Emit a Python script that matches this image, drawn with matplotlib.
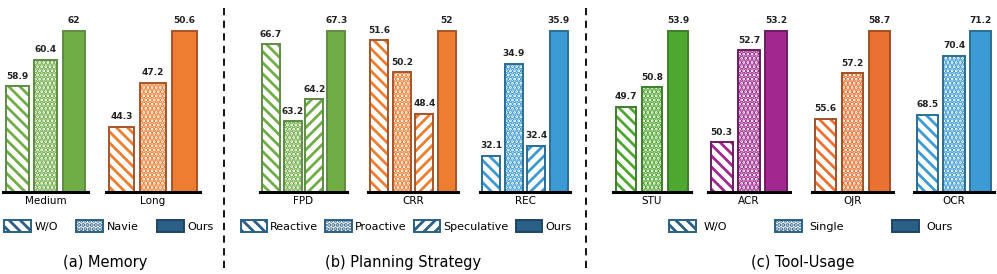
import matplotlib
matplotlib.use("Agg")
import matplotlib.pyplot as plt
from matplotlib.patches import Patch
from matplotlib.lines import Line2D

plt.rcParams['font.family'] = ['DejaVu Sans']
plt.rcParams['hatch.linewidth'] = 2.0

# ---------------- data ----------------
mem_categories = ['Medium', 'Long']
mem_series = ['W/O', 'Navie', 'Ours']
mem_wo = [58.9, 44.3]
mem_navie = [60.4, 47.2]
mem_ours = [62, 50.6]

plan_categories = ['FPD', 'CRR', 'REC']
plan_series = ['Reactive', 'Proactive', 'Speculative', 'Ours']
plan_reactive = [66.7, 51.6, 32.1]
plan_proactive = [63.2, 50.2, 34.9]
plan_speculative = [64.2, 48.4, 32.4]
plan_ours = [67.3, 52, 35.9]

tool_categories = ['STU', 'ACR', 'OJR', 'OCR']
tool_series = ['W/O', 'Single', 'Ours']
tool_wo = [49.7, 50.3, 55.6, 68.5]
tool_single = [50.8, 52.7, 57.2, 70.4]
tool_ours = [53.9, 53.2, 58.7, 71.2]

# per-group y-axis floors (axis setting)
mem_floor = [53, 40]
plan_floor = [60, 45, 31]
tool_floor = [45, 49, 53, 66]

# ---------------- styles ----------------
W, H = 997, 274
fig = plt.figure(figsize=(W / 100, H / 100), dpi=100)

def px_axes(x0, x1, ytop=20, ybot=192):
    return fig.add_axes([x0 / W, (H - ybot) / H, (x1 - x0) / W, (ybot - ytop) / H])

# (fill, edge)
GREEN = ('#70AD47', '#5E8C45')
ORANGE = ('#ED7D31', '#A8542A')
BLUE = ('#3C9AD4', '#2B6E93')
GREEN2 = ('#4EA72E', '#3E7E2C')
PURPLE = ('#A0288E', '#6E1C63')
ORANGE2 = ('#E97132', '#A34F22')
LEG = ('#2A5F86', '#1F4466')
DOT_LW = 2.6

def set_hlw(artists, lw):
    for a in artists:
        if hasattr(a, 'set_hatch_linewidth'):
            a.set_hatch_linewidth(lw)

def draw_bar(ax, x, v, kind, col, width):
    fill, edge = col
    if kind == 'back':
        ax.bar(x, v, width, facecolor='white', edgecolor=fill, hatch='\\\\\\', linewidth=0)
    elif kind == 'fwd':
        ax.bar(x, v, width, facecolor='white', edgecolor=fill, hatch='///', linewidth=0)
    elif kind == 'dots':
        b = ax.bar(x, v, width, facecolor='white', edgecolor=fill, hatch='....', linewidth=0)
        set_hlw(b, DOT_LW)
    else:
        ax.bar(x, v, width, facecolor=fill, edgecolor=fill, linewidth=0)
    ax.bar(x, v, width, fill=False, edgecolor=edge, linewidth=1.4)
    ax.annotate(f'{v:g}', (x, v), xytext=(0, 4), textcoords='offset points',
                ha='center', va='bottom', fontsize=6.5, fontweight='bold',
                color='#222222', annotation_clip=False)

def group(x0, x1, values, kinds, col, label, floor, width):
    ax = px_axes(x0, x1)
    n = len(values)
    for i, (v, k) in enumerate(zip(values, kinds)):
        draw_bar(ax, i, v, k, col, width)
    top = max(values)
    ax.set_ylim(floor, floor + (top - floor) * (192 - 20) / (192 - 31))
    ax.set_xlim(-0.5, n - 0.5)
    for s in ['top', 'left', 'right']:
        ax.spines[s].set_visible(False)
    ax.spines['bottom'].set_linewidth(2.2)
    ax.spines['bottom'].set_color('black')
    ax.set_yticks([])
    ax.set_xticks([])
    ax.set_xlabel(label, fontsize=7.5, labelpad=3)
    return ax

# ---------- panel a ----------
mem_cols = [GREEN, ORANGE]
mem_x = [(3, 88), (106, 200)]
for i, c in enumerate(mem_categories):
    group(*mem_x[i], [mem_wo[i], mem_navie[i], mem_ours[i]],
          ['back', 'dots', 'solid'], mem_cols[i], c, mem_floor[i], 0.8)

# ---------- panel b ----------
plan_cols = [GREEN, ORANGE, BLUE]
plan_x = [(260, 347), (368, 458), (480, 570)]
for i, c in enumerate(plan_categories):
    group(*plan_x[i], [plan_reactive[i], plan_proactive[i], plan_speculative[i], plan_ours[i]],
          ['back', 'dots', 'fwd', 'solid'], plan_cols[i], c, plan_floor[i], 0.82)

# ---------- panel c ----------
tool_cols = [GREEN2, PURPLE, ORANGE2, BLUE]
tool_x = [(613, 691), (708, 790), (812, 893), (914, 994)]
for i, c in enumerate(tool_categories):
    group(*tool_x[i], [tool_wo[i], tool_single[i], tool_ours[i]],
          ['back', 'dots', 'solid'], tool_cols[i], c, tool_floor[i], 0.8)

# ---------- legends ----------
def leg_handle(kind):
    fill, edge = LEG
    if kind == 'back':
        return Patch(facecolor='white', edgecolor=fill, hatch='\\\\\\', linewidth=1.4)
    if kind == 'fwd':
        return Patch(facecolor='white', edgecolor=fill, hatch='///', linewidth=1.4)
    if kind == 'dots':
        p = Patch(facecolor='white', edgecolor=fill, hatch='....', linewidth=1.4)
        set_hlw([p], DOT_LW)
        return p
    return Patch(facecolor=fill, edgecolor=edge, linewidth=1.4)

def legend(labels, kinds, cx, colsp, textpad=0.3):
    fig.legend([leg_handle(k) for k in kinds], labels, loc='center',
               bbox_to_anchor=(cx / W, (H - 226) / H), ncol=len(labels),
               frameon=False, fontsize=8, handlelength=2.4, handleheight=1.25,
               handletextpad=textpad, columnspacing=colsp, borderpad=0, borderaxespad=0)

legend(mem_series, ['back', 'dots', 'solid'], 109, 1.65, 0.35)
legend(plan_series, ['back', 'dots', 'fwd', 'solid'], 406, 0.65, 0.25)
legend(tool_series, ['back', 'dots', 'solid'], 811, 4.3, 0.7)

# ---------- titles ----------
fig.text(105 / W, (H - 262) / H, '(a) Memory', ha='center', va='center', fontsize=10.5)
fig.text(403 / W, (H - 262) / H, '(b) Planning Strategy', ha='center', va='center', fontsize=10.5)
fig.text(803 / W, (H - 262) / H, '(c) Tool-Usage', ha='center', va='center', fontsize=10.5)

# ---------- separators ----------
for xs in (224, 586):
    fig.add_artist(Line2D([xs / W, xs / W], [(H - 268) / H, (H - 4) / H],
                          color='black', linewidth=1.3, linestyle=(0, (4, 3))))

fig.savefig('out.png', dpi=100)
